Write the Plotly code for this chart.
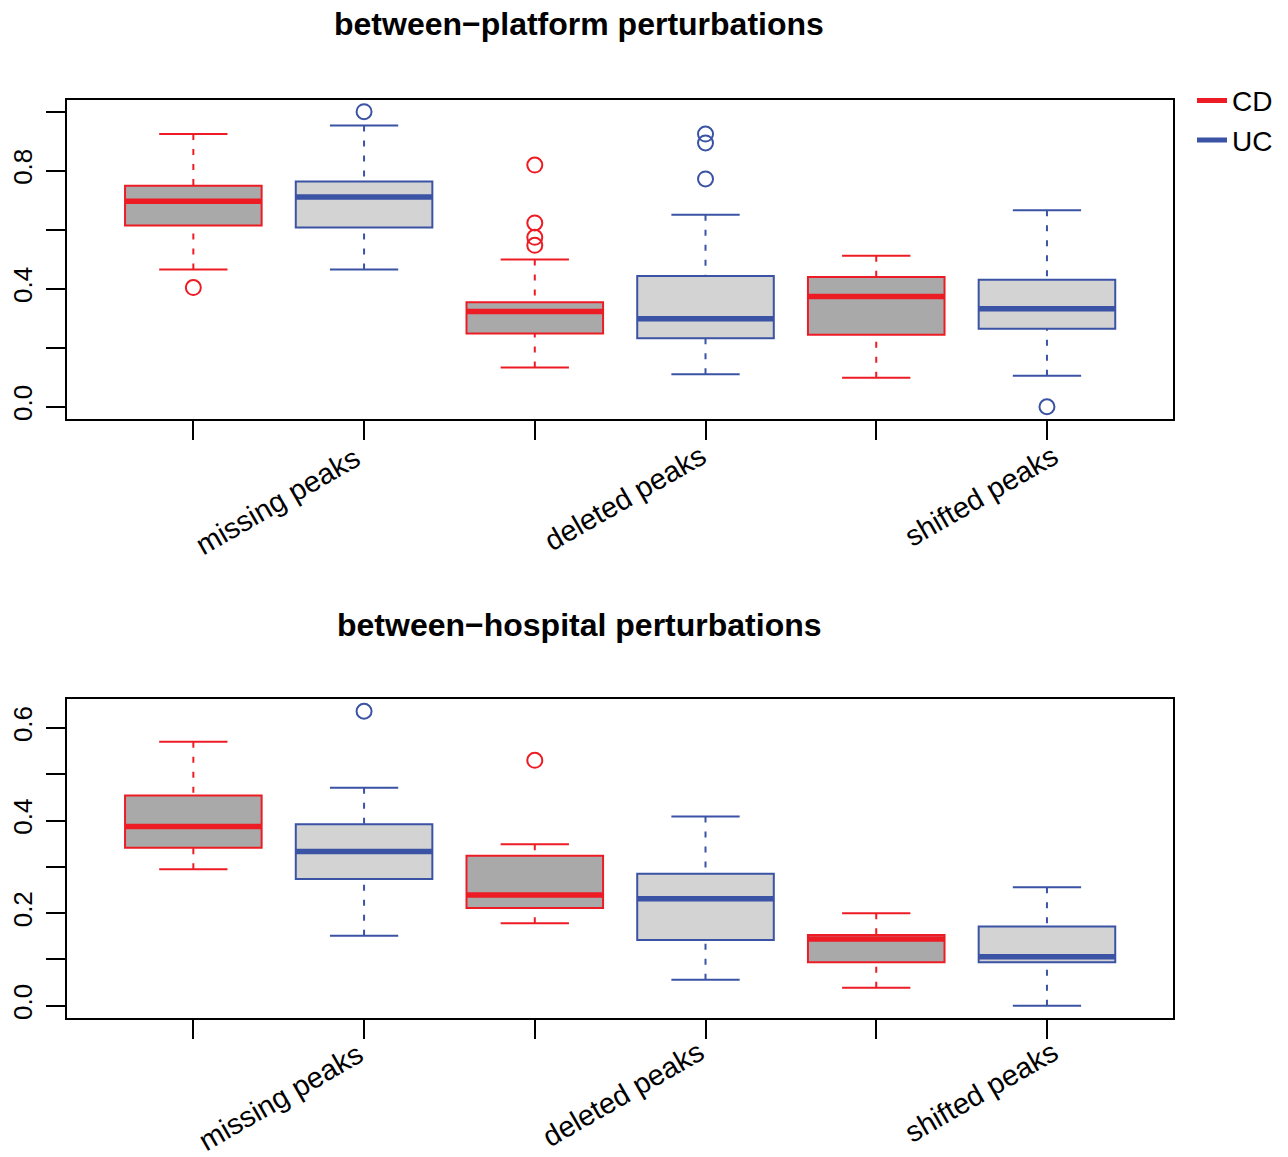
import plotly.graph_objects as go

# ---------------- data ----------------
categories = ["missing peaks", "deleted peaks", "shifted peaks"]
groups = ["CD", "UC"]

# between-platform perturbations
plat_cd_lower = [0.465, 0.133, 0.098]
plat_cd_q1 = [0.614, 0.248, 0.244]
plat_cd_med = [0.696, 0.323, 0.374]
plat_cd_q3 = [0.749, 0.354, 0.440]
plat_cd_upper = [0.924, 0.499, 0.512]
plat_cd_out = [[0.404], [0.819, 0.623, 0.574, 0.547], []]

plat_uc_lower = [0.465, 0.110, 0.105]
plat_uc_q1 = [0.607, 0.232, 0.264]
plat_uc_med = [0.711, 0.298, 0.332]
plat_uc_q3 = [0.763, 0.443, 0.430]
plat_uc_upper = [0.953, 0.651, 0.666]
plat_uc_out = [[1.0], [0.924, 0.894, 0.772], [0.0]]

# between-hospital perturbations
hosp_cd_lower = [0.295, 0.178, 0.039]
hosp_cd_q1 = [0.341, 0.211, 0.094]
hosp_cd_med = [0.387, 0.239, 0.144]
hosp_cd_q3 = [0.454, 0.324, 0.153]
hosp_cd_upper = [0.570, 0.349, 0.200]
hosp_cd_out = [[], [0.530], []]

hosp_uc_lower = [0.151, 0.056, 0.0]
hosp_uc_q1 = [0.274, 0.142, 0.094]
hosp_uc_med = [0.333, 0.231, 0.106]
hosp_uc_q3 = [0.392, 0.285, 0.171]
hosp_uc_upper = [0.471, 0.409, 0.256]
hosp_uc_out = [[0.636], [], []]

plat_yticks = [0.0, 0.2, 0.4, 0.6, 0.8, 1.0]
plat_yticklabels = ["0.0", "", "0.4", "", "0.8", ""]
hosp_yticks = [0.0, 0.1, 0.2, 0.3, 0.4, 0.5, 0.6]
hosp_yticklabels = ["0.0", "", "0.2", "", "0.4", "", "0.6"]

titles = ["between\u2212platform perturbations", "between\u2212hospital perturbations"]

# ---------------- styling ----------------
W, H = 1288, 1157
RED = "#ED1C24"
BLUE = "#3A53A4"
FILL_CD = "#A9A9A9"
FILL_UC = "#D3D3D3"
FONT = "Liberation Sans, Arial, Helvetica, sans-serif"

BOXW = 0.8
CAPW = 0.4

fig = go.Figure()


def add_group(pos, lower, q1, med, q3, upper, outs, color, fill, xa, ya):
    fig.add_trace(go.Box(
        x=pos, q1=q1, median=med, q3=q3, lowerfence=q1, upperfence=q3,
        width=BOXW, fillcolor=fill, line=dict(color=color, width=2),
        whiskerwidth=0, boxpoints=False, showlegend=False,
        xaxis=xa, yaxis=ya, hoverinfo="skip"))
    # median
    mx, my = [], []
    for p, m in zip(pos, med):
        mx += [p - BOXW / 2, p + BOXW / 2, None]
        my += [m, m, None]
    fig.add_trace(go.Scatter(x=mx, y=my, mode="lines", line=dict(color=color, width=5.5),
                             showlegend=False, xaxis=xa, yaxis=ya, hoverinfo="skip"))
    # whiskers (dashed)
    wx, wy = [], []
    for p, lo, a, b, up in zip(pos, lower, q1, q3, upper):
        wx += [p, p, None, p, p, None]
        wy += [up, b, None, lo, a, None]
    fig.add_trace(go.Scatter(x=wx, y=wy, mode="lines",
                             line=dict(color=color, width=2, dash="6px,9px"),
                             showlegend=False, xaxis=xa, yaxis=ya, hoverinfo="skip"))
    # caps
    cx, cy = [], []
    for p, lo, up in zip(pos, lower, upper):
        cx += [p - CAPW / 2, p + CAPW / 2, None, p - CAPW / 2, p + CAPW / 2, None]
        cy += [up, up, None, lo, lo, None]
    fig.add_trace(go.Scatter(x=cx, y=cy, mode="lines", line=dict(color=color, width=2),
                             showlegend=False, xaxis=xa, yaxis=ya, hoverinfo="skip"))
    # outliers
    ox, oy = [], []
    for p, o in zip(pos, outs):
        for v in o:
            ox.append(p)
            oy.append(v)
    fig.add_trace(go.Scatter(x=ox, y=oy, mode="markers",
                             marker=dict(symbol="circle-open", size=15, color=color,
                                         line=dict(width=2, color=color)),
                             showlegend=False, xaxis=xa, yaxis=ya))


n = len(categories)
pos_cd = [2 * i + 1 for i in range(n)]
pos_uc = [2 * i + 2 for i in range(n)]
all_pos = sorted(pos_cd + pos_uc)

add_group(pos_cd, plat_cd_lower, plat_cd_q1, plat_cd_med, plat_cd_q3, plat_cd_upper,
          plat_cd_out, RED, FILL_CD, "x", "y")
add_group(pos_uc, plat_uc_lower, plat_uc_q1, plat_uc_med, plat_uc_q3, plat_uc_upper,
          plat_uc_out, BLUE, FILL_UC, "x", "y")
add_group(pos_cd, hosp_cd_lower, hosp_cd_q1, hosp_cd_med, hosp_cd_q3, hosp_cd_upper,
          hosp_cd_out, RED, FILL_CD, "x2", "y2")
add_group(pos_uc, hosp_uc_lower, hosp_uc_q1, hosp_uc_med, hosp_uc_q3, hosp_uc_upper,
          hosp_uc_out, BLUE, FILL_UC, "x2", "y2")

# legend entries
for g, c in zip(groups, [RED, BLUE]):
    fig.add_trace(go.Scatter(x=[None], y=[None], mode="lines", name=g,
                             line=dict(color=c, width=5), xaxis="x", yaxis="y"))


def rng(*arrs):
    vals = []
    for a in arrs:
        for v in a:
            if isinstance(v, list):
                vals += v
            else:
                vals.append(v)
    lo, hi = min(vals), max(vals)
    d = (hi - lo) * 0.04
    return [lo - d, hi + d]


plat_range = rng(plat_cd_lower, plat_cd_upper, plat_cd_out, plat_uc_lower, plat_uc_upper, plat_uc_out)
hosp_range = rng(hosp_cd_lower, hosp_cd_upper, hosp_cd_out, hosp_uc_lower, hosp_uc_upper, hosp_uc_out)

xr = [0.5 - 0.24, len(all_pos) + 0.5 + 0.24]
xdom = [67 / W, 1173.3 / W]
ydom_top = [1 - 419.3 / H, 1 - 100 / H]
ydom_bot = [1 - 1019.3 / H, 1 - 700.7 / H]

xcommon = dict(range=xr, domain=xdom, tickvals=all_pos, ticktext=[""] * len(all_pos),
               showticklabels=False, ticks="outside", ticklen=19, tickwidth=2, tickcolor="black",
               showline=True, mirror=True, linecolor="black", linewidth=2,
               showgrid=False, zeroline=False, fixedrange=True)
ycommon = dict(ticks="outside", ticklen=19, tickwidth=2, tickcolor="black",
               showline=True, mirror=True, linecolor="black", linewidth=2,
               showgrid=False, zeroline=False, tickangle=-90, ticklabelstandoff=4,
               tickfont=dict(family=FONT, size=26, color="black"))

fig.update_layout(
    width=W, height=H,
    margin=dict(l=0, r=0, t=0, b=0),
    paper_bgcolor="white", plot_bgcolor="white",
    font=dict(family=FONT, color="black"),
    boxmode="overlay",
    xaxis=dict(**xcommon, anchor="y"),
    yaxis=dict(**ycommon, range=plat_range, domain=ydom_top, anchor="x",
               tickvals=plat_yticks, ticktext=plat_yticklabels),
    xaxis2=dict(**xcommon, anchor="y2"),
    yaxis2=dict(**ycommon, range=hosp_range, domain=ydom_bot, anchor="x2",
                tickvals=hosp_yticks, ticktext=hosp_yticklabels),
    legend=dict(x=1192 / W, xanchor="left", y=1 - 76 / H, yanchor="top",
                font=dict(family=FONT, size=28, color="black"),
                bgcolor="rgba(0,0,0,0)", itemwidth=30, tracegroupgap=0),
    showlegend=True,
)

annotations = []
for t, ypx in zip(titles, [24, 626]):
    annotations.append(dict(text="<b>" + t + "</b>", x=579 / W, y=1 - ypx / H,
                            xref="paper", yref="paper", xanchor="center", yanchor="middle",
                            showarrow=False, font=dict(family=FONT, size=32, color="black")))

label_px_top = [(278, 502), (625, 499), (981, 497)]
label_px_bot = [(281, 1099), (623, 1096), (981, 1094)]
for lbls in [label_px_top, label_px_bot]:
    for cat, (px, py) in zip(categories, lbls):
        annotations.append(dict(text=cat, x=px / W, y=1 - py / H, xref="paper", yref="paper",
                                xanchor="center", yanchor="middle", textangle=-30,
                                showarrow=False, font=dict(family=FONT, size=29, color="black")))
fig.update_layout(annotations=annotations)

fig.write_html("out.html", config={"displayModeBar": False},
               post_script="document.body.style.margin='0';document.body.style.overflow='hidden';")
